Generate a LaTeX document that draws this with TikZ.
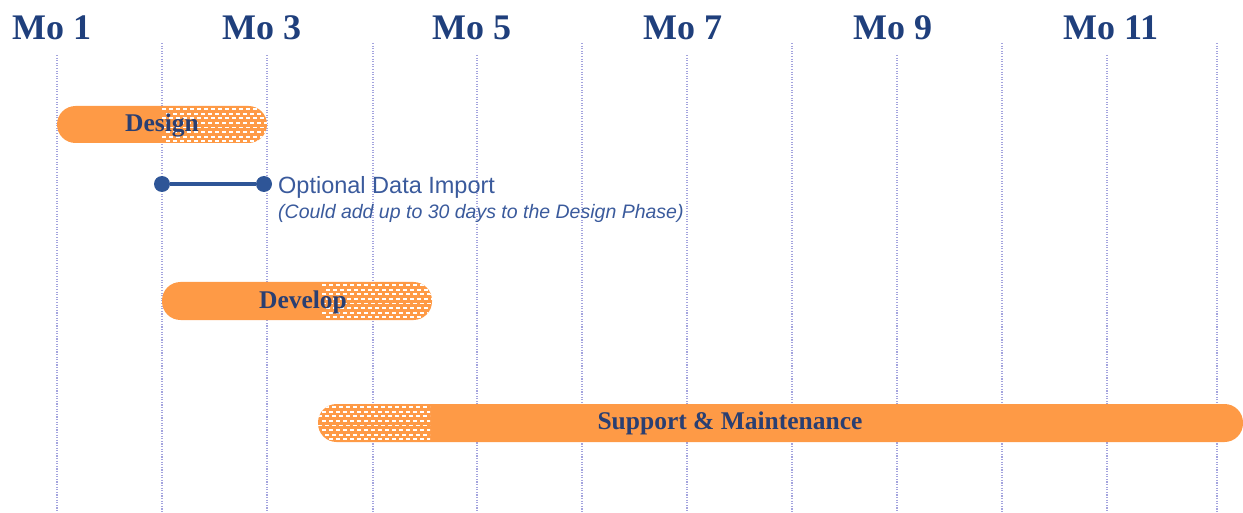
\documentclass[tikz,border=0pt]{standalone}
\usepackage{fontspec}
\setmainfont{Liberation Serif}
\newfontfamily\labelsans{Liberation Sans}
\definecolor{barorange}{HTML}{FE9A46}
\definecolor{monthblue}{HTML}{1F3F7C}
\definecolor{bartext}{HTML}{2A3F72}
\definecolor{optblue}{HTML}{2E5597}
\definecolor{optlabel}{HTML}{3A5A9C}
\definecolor{gridline}{HTML}{A4A4DE}
\tikzset{
  monthlabel/.style={anchor=base west, inner sep=0pt, text=monthblue,
    font=\fontsize{36}{40}\selectfont\bfseries},
  bartitle/.style={inner sep=0pt, text=bartext,
    font=\fontsize{25.5}{28}\selectfont\bfseries},
  gridrule/.style={draw=gridline, line width=1.2pt, dash pattern=on 1.1pt off 1.5pt},
  barfill/.style={fill=barorange, rounded corners=18.5pt},
  optdot/.style={circle, fill=optblue, inner sep=0pt, minimum size=16pt},
}
% white brick-like dash texture over the current clip region
\newcommand{\dashfield}[3]{% x start, y top, number of columns
  \foreach \r in {0,...,7}{
    \foreach \c in {0,...,#3}{
      \fill[white] ({#1+\c*7+mod(\r,2)*3.5},{#2+2.2+\r*4.6}) rectangle ++(4.2,1.8);
    }
  }
}
\begin{document}
\begin{tikzpicture}[x=1pt,y=-1pt]
\useasboundingbox (0,0) rectangle (1243,513);

% month grid
\foreach \x [count=\i] in {57,162,267,373,477,582,687,792,897,1002,1107,1217}{
  \pgfmathsetmacro{\ytop}{ifthenelse(mod(\i,2)==1,55,43)}
  \draw[gridrule] (\x,\ytop) -- (\x,513);
}

% month headings
\node[monthlabel] (m1)  at (12,40)   {Mo 1};
\node[monthlabel] (m3)  at (222,40)  {Mo 3};
\node[monthlabel] (m5)  at (432,40)  {Mo 5};
\node[monthlabel] (m7)  at (643,40)  {Mo 7};
\node[monthlabel] (m9)  at (853,40)  {Mo 9};
\node[monthlabel] (m11) at (1063,40) {Mo 11};

% Design bar
\fill[barfill] (57,106) rectangle (267,143);
\begin{scope}
  \clip[rounded corners=18.5pt] (57,106) rectangle (267,143);
  \clip (162,100) rectangle (270,150);
  \dashfield{162}{106}{15}
\end{scope}
\node[bartitle] (design) at (162,125) {Design};

% Optional data import
\node[optdot] (o1) at (162,184) {};
\node[optdot] (o2) at (264,184) {};
\draw[optblue, line width=4pt] (o1) -- (o2);
\node[anchor=base west, inner sep=0pt, text=optlabel,
  font=\labelsans\fontsize{23.5}{26}\selectfont] (optlbl) at (278,194) {Optional Data Import};
\node[anchor=base west, inner sep=0pt, text=optlabel,
  font=\labelsans\itshape\fontsize{19.5}{22}\selectfont] (optnote) at (278,219)
  {(Could add up to 30 days to the Design Phase)};

% Develop bar
\fill[barfill] (162,282) rectangle (432,320);
\begin{scope}
  \clip[rounded corners=18.5pt] (162,282) rectangle (432,320);
  \clip (322,276) rectangle (440,326);
  \dashfield{322}{282}{16}
\end{scope}
\node[bartitle] (develop) at (303,302) {Develop};

% Support & Maintenance bar
\fill[barfill] (318,404) rectangle (1243,442);
\begin{scope}
  \clip[rounded corners=18.5pt] (318,404) rectangle (1243,442);
  \clip (310,398) rectangle (430,448);
  \dashfield{318}{404}{16}
\end{scope}
\node[bartitle] (support) at (730,423) {Support \& Maintenance};
\end{tikzpicture}
\end{document}
